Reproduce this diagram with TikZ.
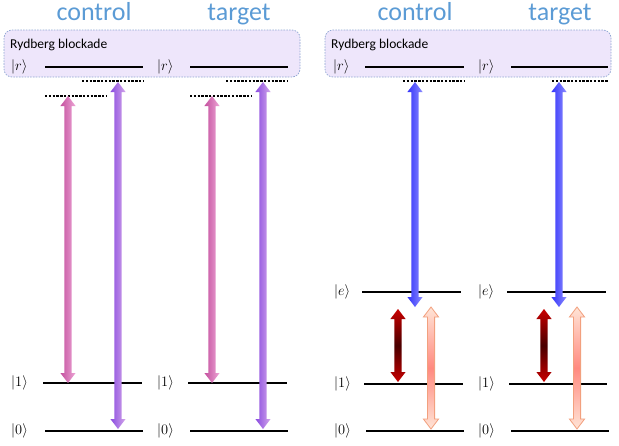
\documentclass[tikz,border=0pt]{standalone}
\usepackage{fontspec}
\setmainfont{Carlito}
\usetikzlibrary{calc}

\definecolor{titleblue}{HTML}{5B9BD5}
\definecolor{boxfill}{HTML}{EEE6FB}
\definecolor{boxline}{HTML}{8FA6D2}
\definecolor{pinkL}{HTML}{C4509E}
\definecolor{pinkR}{HTML}{EDA6D6}
\definecolor{purpL}{HTML}{8A4CE0}
\definecolor{purpR}{HTML}{D3A6EA}
\definecolor{blueL}{HTML}{3434FA}
\definecolor{blueR}{HTML}{8C8CFF}
\definecolor{redEnd}{HTML}{C80000}
\definecolor{redMid}{HTML}{4A0000}
\definecolor{salEnd}{HTML}{FFE4D6}
\definecolor{salMid}{HTML}{FF8A80}
\definecolor{salLine}{HTML}{F2A07E}

% block arrow geometry
\newcommand\arrSW{3.6pt}  % half shaft width
\newcommand\arrHW{7.6pt}  % half head width
\newcommand\arrHL{10pt}   % head length

% double-headed block arrow between two named coordinates (upper, lower)
\newcommand\blockarrow[3]{%
  \path[#1] let \p1=(#2), \p2=(#3) in
    (\x1,\y1) -- (\x1+\arrHW,\y1-\arrHL) -- (\x1+\arrSW,\y1-\arrHL)
    -- (\x2+\arrSW,\y2+\arrHL) -- (\x2+\arrHW,\y2+\arrHL) -- (\x2,\y2)
    -- (\x2-\arrHW,\y2+\arrHL) -- (\x2-\arrSW,\y2+\arrHL)
    -- (\x1-\arrSW,\y1-\arrHL) -- (\x1-\arrHW,\y1-\arrHL) -- cycle;}

\tikzset{
  title/.style={text=titleblue, font=\fontsize{26}{28}\selectfont, anchor=base},
  blockbox/.style={draw=boxline, fill=boxfill, rounded corners=8pt,
                   line width=0.7pt, dash pattern=on 1.6pt off 1.2pt},
  boxlabel/.style={font=\fontsize{13.5}{15}\selectfont, anchor=base west, inner sep=0pt},
  statelabel/.style={font=\fontsize{15}{17}\selectfont, anchor=west, inner sep=0pt},
  level/.style={line width=2.4pt, black},
  virtual/.style={line width=2.6pt, black, dash pattern=on 2.4pt off 1.4pt},
  pinkarrow/.style={left color=pinkL, right color=pinkR},
  purparrow/.style={left color=purpL, right color=purpR},
  bluearrow/.style={left color=blueL, right color=blueR},
  redarrow/.style={top color=redEnd, bottom color=redEnd, middle color=redMid},
  salarrow/.style={top color=salEnd, bottom color=salEnd, middle color=salMid,
                   draw=salLine, line width=0.8pt},
}

\begin{document}
\begin{tikzpicture}[x=1pt,y=-1pt]
\useasboundingbox (0,0) rectangle (619,445);

% ---------------- titles ----------------
\node[title] (tA) at (94,20) {control};
\node[title] (tB) at (239,20) {target};
\node[title] (tC) at (415,20) {control};
\node[title] (tD) at (560,20) {target};

% ---------------- Rydberg blockade boxes ----------------
\path[blockbox] (4,30) rectangle (300,77);
\path[blockbox] (325,30) rectangle (611,77);
\node[boxlabel] (bA) at (10,48) {Rydberg blockade};
\node[boxlabel] (bB) at (331,48) {Rydberg blockade};

% ---------------- left scheme: levels ----------------
\node[statelabel] (lArA) at (11,67) {$|r\rangle$};
\node[statelabel] (lArB) at (157,67) {$|r\rangle$};
\draw[level] (45,67) -- (143,67);
\draw[level] (190,67) -- (288,67);

\draw[virtual] (82,81) -- (143,81);
\draw[virtual] (45,96) -- (107,96);
\draw[virtual] (226,81) -- (288,81);
\draw[virtual] (190,96) -- (252,96);

\node[statelabel] (lA1) at (11,383) {$|1\rangle$};
\node[statelabel] (lB1) at (157,383) {$|1\rangle$};
\node[statelabel] (lA0) at (11,431) {$|0\rangle$};
\node[statelabel] (lB0) at (157,431) {$|0\rangle$};
\draw[level] (43,383) -- (142,383);
\draw[level] (188,383) -- (287,383);
\draw[level] (45,431) -- (143,431);
\draw[level] (190,431) -- (288,431);

% left scheme: transitions
\coordinate (pA1) at (68,96);   \coordinate (pA2) at (68,383);
\coordinate (qA1) at (118,82);  \coordinate (qA2) at (118,429);
\coordinate (pB1) at (212,96);  \coordinate (pB2) at (212,383);
\coordinate (qB1) at (263,82);  \coordinate (qB2) at (263,429);
\blockarrow{pinkarrow}{pA1}{pA2}
\blockarrow{purparrow}{qA1}{qA2}
\blockarrow{pinkarrow}{pB1}{pB2}
\blockarrow{purparrow}{qB1}{qB2}

% ---------------- right scheme: levels ----------------
\node[statelabel] (lCr) at (333,67) {$|r\rangle$};
\node[statelabel] (lDr) at (478,67) {$|r\rangle$};
\draw[level] (365,67) -- (464,67);
\draw[level] (511,67) -- (608,67);

\draw[virtual] (403,81) -- (464,81);
\draw[virtual] (552,81) -- (608,81);

\node[statelabel] (lCe) at (334,292) {$|e\rangle$};
\node[statelabel] (lDe) at (478,292) {$|e\rangle$};
\draw[level] (362,292) -- (461,292);
\draw[level] (507,292) -- (606,292);

\node[statelabel] (lC1) at (334,384) {$|1\rangle$};
\node[statelabel] (lD1) at (478,384) {$|1\rangle$};
\node[statelabel] (lC0) at (334,431) {$|0\rangle$};
\node[statelabel] (lD0) at (478,431) {$|0\rangle$};
\draw[level] (364,384) -- (463,384);
\draw[level] (509,384) -- (607,384);
\draw[level] (366,431) -- (464,431);
\draw[level] (511,431) -- (609,431);

% right scheme: transitions
\coordinate (bC1) at (415,82);  \coordinate (bC2) at (415,307);
\coordinate (bD1) at (559,82);  \coordinate (bD2) at (559,307);
\coordinate (rC1) at (398,309); \coordinate (rC2) at (398,382);
\coordinate (rD1) at (544,309); \coordinate (rD2) at (544,382);
\coordinate (sC1) at (431,307); \coordinate (sC2) at (431,429);
\coordinate (sD1) at (577,307); \coordinate (sD2) at (577,429);
\blockarrow{bluearrow}{bC1}{bC2}
\blockarrow{bluearrow}{bD1}{bD2}
\blockarrow{redarrow}{rC1}{rC2}
\blockarrow{redarrow}{rD1}{rD2}
\blockarrow{salarrow}{sC1}{sC2}
\blockarrow{salarrow}{sD1}{sD2}
\end{tikzpicture}
\end{document}
